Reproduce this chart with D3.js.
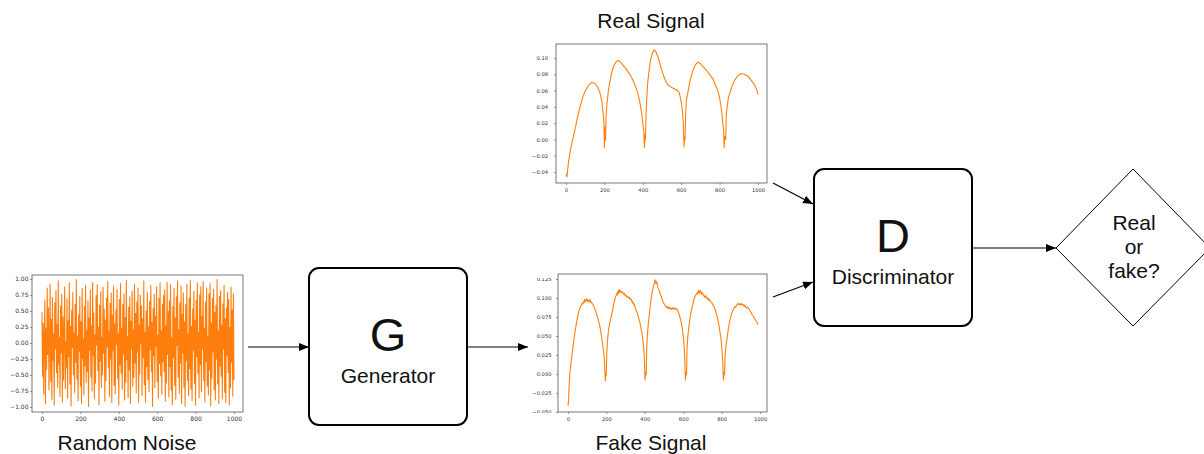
<!DOCTYPE html>
<html>
<head>
<meta charset="utf-8">
<script src="https://cdn.jsdelivr.net/npm/d3@7"></script>
<style>
  html, body { margin: 0; padding: 0; background: #fff; }
  svg { display: block; }
  .diag { font-family: "Liberation Sans", Arial, sans-serif; fill: #111; }
  .tick text { font-family: "DejaVu Sans", sans-serif; fill: #333; }
</style>
</head>
<body>
<svg id="chart" width="1204" height="454"></svg>
<script>
// ---------------- DATA ----------------
const noiseY = [0.48,-0.52,0.31,-0.80,0.12,0.67,-0.95,0.22,-0.41,0.86,-0.18,0.55,-0.73,0.05,0.92,-0.60,0.37,-0.88,0.71,-0.27,
0.14,-0.97,0.63,-0.09,0.82,-0.46,0.29,-0.69,0.97,-0.33,0.08,-0.84,0.58,-0.15,0.76,-0.92,0.41,-0.58,0.19,0.88,
-0.71,0.02,-0.39,0.69,-0.86,0.35,-0.21,0.94,-0.64,0.26,-0.98,0.51,-0.07,0.79,-0.49,0.16,-0.77,0.61,-0.30,0.99,
-0.56,0.11,-0.90,0.44,-0.13,0.73,-0.67,0.33,-0.94,0.85,-0.24,0.06,-0.81,0.57,-0.36,0.90,-0.62,0.20,-0.45,0.66,
-0.99,0.39,-0.11,0.83,-0.53,0.27,-0.75,0.95,-0.19,0.47,-0.87,0.13,-0.63,0.74,-0.03,0.91,-0.43,0.24,-0.96,0.59,
-0.28,0.80,-0.70,0.09,-0.50,0.87,-0.16,0.53,-0.91,0.36,-0.59,0.70,-0.06,0.96,-0.38,0.18,-0.83,0.62,-0.25,0.78,
-0.93,0.43,-0.12,0.89,-0.66,0.30,-0.79,0.52,-0.02,0.84,-0.55,0.15,-0.97,0.68,-0.34,0.93,-0.47,0.23,-0.72,0.60,
-0.17,0.77,-0.89,0.40,-0.61,0.98,-0.26,0.10,-0.85,0.56,-0.42,0.72,-0.95,0.34,-0.08,0.81,-0.68,0.21,-0.54,0.92,
-0.31,0.46,-0.78,0.64,-0.14,0.86,-0.92,0.28,-0.48,0.75,-0.01,0.58,-0.82,0.38,-0.23,0.97,-0.65,0.17,-0.93,0.50,
-0.37,0.79,-0.57,0.25,-0.76,0.65,-0.10,0.90,-0.44,0.32,-0.99,0.54,-0.20,0.76,-0.70,0.42,-0.05,0.88,-0.60,0.12,
-0.86,0.70,-0.32,0.94,-0.51,0.19,-0.80,0.61,-0.29,0.74,-0.45,0.83,-0.91,0.27,-0.62,0.95,-0.18,0.49,-0.84,0.66,
-0.37,0.91,-0.74,0.08,-0.96,0.57,-0.23,0.85,-0.66,0.39,-0.88,0.72,-0.04,0.97,-0.53,0.21,-0.79,0.63,-0.31,0.89,
-0.94,0.45,-0.15,0.78,-0.69,0.33,-0.99,0.60,-0.27,0.92,-0.58,0.14,-0.82,0.70,-0.40,0.98,-0.72,0.26,-0.90,0.53,
-0.11,0.81,-0.63,0.36,-0.97,0.67,-0.21,0.94,-0.47,0.17,-0.86,0.75,-0.34,0.88,-0.76,0.42,-0.08,0.96,-0.59,0.23,
-0.92,0.64,-0.29,0.86,-0.67,0.11,-0.81,0.77,-0.42,0.93,-0.98,0.31,-0.55,0.70,-0.14,0.84,-0.73,0.48,-0.89,0.59,
-0.25,0.99,-0.64,0.19,-0.95,0.73,-0.36,0.82,-0.52,0.28,-0.87,0.61,-0.09,0.90,-0.77,0.38,-0.93,0.55,-0.20,0.79,
-0.46,0.68,-0.97,0.24,-0.70,0.87,-0.30,0.52,-0.83,0.77,-0.58];

const realX = [0,5,12,21,33,47,60,73,86,99,116,135,150,163,175,185,192,198,200,202,204,206,209,214,220,228,237,248,263,275,
290,315,335,350,364,376,386,393,400,405,409,411,414,417,421,425,432,440,450,459,468,480,490,503,515,528,541,558,575,589,
597,605,611,615,617,620,623,627,636,645,653,665,678,690,700,715,731,748,766,780,792,801,809,816,821,824,827,832,835,839,
847,856,867,879,895,913,930,945,957,970,983,992,1000];
const realY = [-0.042,-0.046,-0.030,-0.016,-0.002,0.012,0.027,0.040,0.051,0.059,0.066,0.070,0.069,0.065,0.059,0.049,0.037,0.020,-0.010,0.015,
0.000,-0.001,0.030,0.045,0.058,0.070,0.081,0.090,0.096,0.097,
0.093,0.086,0.079,0.072,0.064,0.055,0.044,0.034,0.020,0.010,-0.010,0.005,-0.001,0.030,0.052,0.068,0.083,0.097,0.106,0.110,
0.108,0.101,0.092,0.082,0.074,0.068,0.065,0.063,0.061,0.058,
0.050,0.038,0.020,-0.009,0.003,-0.001,0.030,0.048,0.059,0.071,0.078,0.087,0.093,0.095,0.093,0.089,0.085,0.080,0.074,0.066,
0.059,0.050,0.038,0.022,0.012,-0.010,0.004,0.000,0.030,0.040,
0.052,0.059,0.067,0.073,0.078,0.081,0.080,0.078,0.075,0.071,0.067,0.062,0.055];

const fakeX = [0,3,6,9,14,21,29,38,46,55,60,64,68,73,77,80,83,86,89,92,96,99,102,106,109,112,115,118,122,125,
129,133,137,142,146,151,155,160,168,176,185,190,194,197,199,202,206,211,220,229,237,242,246,250,254,257,260,262,264,266,
268,271,273,276,280,284,289,293,298,302,306,310,315,319,324,328,332,335,338,341,344,347,350,358,367,376,385,391,396,399,
401,404,407,410,413,416,424,432,440,443,446,449,451,454,456,458,461,463,466,468,471,475,478,482,486,489,492,496,499,503,
507,510,514,518,521,524,527,530,534,538,542,546,549,552,555,558,562,566,570,575,584,593,600,605,608,611,614,617,620,624,
630,638,645,650,653,657,662,666,670,673,676,678,680,682,684,686,688,691,693,696,700,703,707,710,714,717,720,724,727,731,
734,737,740,744,748,752,756,761,766,775,783,790,797,802,806,809,812,815,818,822,827,835,844,852,856,860,865,870,874,878,
882,885,889,892,896,900,904,908,912,915,919,922,926,930,935,939,944,948,953,957,965,974,983,990];
const fakeY = [-0.042,-0.035,-0.015,-0.002,0.012,0.025,0.042,0.058,0.070,0.081,0.085,0.088,0.090,0.093,0.092,0.095,0.094,0.098,0.095,0.096,
0.099,0.096,0.098,0.095,0.097,0.096,0.098,0.094,0.095,0.093,
0.092,0.089,0.088,0.084,0.082,0.077,0.074,0.069,0.060,0.047,0.030,0.017,-0.009,0.002,-0.002,0.028,0.045,0.058,0.070,0.080,
0.091,0.095,0.101,0.103,0.106,0.104,0.109,0.106,0.108,0.111,
0.107,0.110,0.108,0.109,0.107,0.108,0.105,0.106,0.103,0.104,0.101,0.102,0.100,0.101,0.098,0.099,0.095,0.096,0.093,0.094,
0.090,0.091,0.087,0.082,0.075,0.066,0.054,0.042,0.028,0.012,
-0.008,0.002,-0.001,0.035,0.050,0.060,0.080,0.098,0.110,0.113,0.117,0.119,0.121,0.124,0.120,0.119,0.122,0.120,0.116,0.114,
0.112,0.110,0.107,0.104,0.102,0.099,0.098,0.094,0.093,0.091,
0.090,0.088,0.089,0.087,0.088,0.086,0.088,0.086,0.087,0.085,0.087,0.086,0.087,0.085,0.087,0.086,0.085,0.086,0.084,0.081,
0.074,0.064,0.050,0.036,0.020,-0.008,0.002,-0.001,0.035,0.050,
0.064,0.078,0.087,0.092,0.096,0.099,0.103,0.104,0.106,0.105,0.108,0.107,0.110,0.107,0.109,0.106,0.110,0.107,0.108,0.105,
0.107,0.104,0.104,0.101,0.102,0.103,0.100,0.101,0.098,0.099,
0.097,0.098,0.096,0.095,0.094,0.092,0.090,0.088,0.085,0.077,0.068,0.057,0.046,0.030,0.015,-0.008,0.002,-0.001,0.025,0.036,
0.045,0.060,0.072,0.080,0.082,0.085,0.087,0.089,0.088,0.091,
0.092,0.093,0.091,0.092,0.091,0.093,0.091,0.092,0.090,0.091,0.089,0.090,0.088,0.087,0.088,0.086,0.085,0.083,0.081,0.079,
0.076,0.072,0.068,0.065];

const xTicks = [0, 200, 400, 600, 800, 1000];
const noiseTicks = [-1.00, -0.75, -0.50, -0.25, 0.00, 0.25, 0.50, 0.75, 1.00];
const realTicks = [-0.04, -0.02, 0.00, 0.02, 0.04, 0.06, 0.08, 0.10];
const fakeTicks = [-0.050, -0.025, 0.000, 0.025, 0.050, 0.075, 0.100, 0.125];

const titles = { noise: "Random Noise", real: "Real Signal", fake: "Fake Signal" };
const gLabel = ["G", "Generator"];
const dLabel = ["D", "Discriminator"];
const decisionLines = ["Real", "or", "fake?"];

// ---------------- DRAW ----------------
const svg = d3.select("#chart");
const defs = svg.append("defs");
defs.append("marker").attr("id", "ah")
  .attr("viewBox", "0 0 10 8").attr("refX", 10).attr("refY", 4)
  .attr("markerWidth", 10).attr("markerHeight", 8)
  .attr("markerUnits", "userSpaceOnUse").attr("orient", "auto")
  .append("path").attr("d", "M0,0 L10,4 L0,8 Z").attr("fill", "#000");

const ORANGE = "#ff7f0e";
const minus = s => s.replace("-", "\u2212");
let clipId = 0;

function miniPlot(cfg) {
  const x = d3.scaleLinear().domain(cfg.xd).range([cfg.l, cfg.r]);
  const y = d3.scaleLinear().domain(cfg.yd).range([cfg.b, cfg.t]);
  const g = svg.append("g");
  const cid = "clip" + (clipId++);
  defs.append("clipPath").attr("id", cid).append("rect")
    .attr("x", cfg.l).attr("y", cfg.t).attr("width", cfg.r - cfg.l).attr("height", cfg.b - cfg.t);
  const plot = g.append("g").attr("clip-path", `url(#${cid})`);
  cfg.series.forEach(s => {
    const pts = s.ys.map((v, i) => [s.xs ? s.xs[i] : i * 1000 / (s.ys.length - 1), v]);
    plot.append("path").datum(pts)
      .attr("fill", "none").attr("stroke", s.color).attr("stroke-width", s.w)
      .attr("stroke-linejoin", "round")
      .attr("d", d3.line().x(d => x(d[0])).y(d => y(d[1])));
  });
  const xa = g.append("g").attr("transform", `translate(0,${cfg.b})`)
    .call(d3.axisBottom(x).tickValues(xTicks).tickSize(2).tickPadding(cfg.xpad).tickFormat(d3.format("d")));
  const ya = g.append("g").attr("transform", `translate(${cfg.l},0)`)
    .call(d3.axisLeft(y).tickValues(cfg.yt).tickSize(2).tickPadding(cfg.ypad)
      .tickFormat(d => minus(d3.format(cfg.fmt)(d))));
  [xa, ya].forEach(a => {
    a.select(".domain").remove();
    a.selectAll(".tick line").attr("stroke", "#555").attr("stroke-width", 0.6);
    a.selectAll(".tick text").attr("font-size", cfg.fs).attr("fill", "#333");
  });
  if (cfg.labelClip) {
    const lc = "clip" + (clipId++);
    defs.append("clipPath").attr("id", lc).append("rect")
      .attr("x", -cfg.l).attr("y", cfg.labelClip[0]).attr("width", cfg.l + 2)
      .attr("height", cfg.labelClip[1] - cfg.labelClip[0]);
    ya.attr("clip-path", `url(#${lc})`);
  }
  g.append("rect").attr("x", cfg.l).attr("y", cfg.t)
    .attr("width", cfg.r - cfg.l).attr("height", cfg.b - cfg.t)
    .attr("fill", "none").attr("stroke", "#555").attr("stroke-width", 0.8);
}

// Random noise
miniPlot({ l: 32, r: 243, t: 275, b: 412, xd: [-52, 1047], yd: [-1.078, 1.0625],
  yt: noiseTicks, fmt: ".2f", fs: 6, xpad: 2.5, ypad: 1.5,
  series: [{ ys: noiseY, color: ORANGE, w: 1.1 }] });

// Real signal
miniPlot({ l: 556, r: 767, t: 44, b: 183, xd: [-52, 1047], yd: [-0.0535, 0.1172],
  yt: realTicks, fmt: ".2f", fs: 5.2, xpad: 3, ypad: 6,
  series: [{ xs: realX, ys: realY, color: ORANGE, w: 1.1 }] });

// Fake signal
miniPlot({ l: 558, r: 767, t: 274, b: 412, xd: [-52, 1036], yd: [-0.050, 0.1316],
  yt: fakeTicks, fmt: ".3f", fs: 5.2, xpad: 3.5, ypad: 4.5, labelClip: [278, 413],
  series: [{ xs: fakeX, ys: fakeY, color: ORANGE, w: 1.1 }] });

// titles
svg.append("text").attr("class", "diag").attr("x", 127).attr("y", 450).attr("text-anchor", "middle")
  .attr("font-size", 21).text(titles.noise);
svg.append("text").attr("class", "diag").attr("x", 651).attr("y", 28).attr("text-anchor", "middle")
  .attr("font-size", 21).text(titles.real);
svg.append("text").attr("class", "diag").attr("x", 651).attr("y", 450).attr("text-anchor", "middle")
  .attr("font-size", 21).text(titles.fake);

// boxes
function box(x0, y0, x1, y1, labels, cx, by1, by2) {
  svg.append("rect").attr("x", x0).attr("y", y0).attr("width", x1 - x0).attr("height", y1 - y0)
    .attr("rx", 10).attr("ry", 10).attr("fill", "#fff").attr("stroke", "#000").attr("stroke-width", 2);
  svg.append("text").attr("class", "diag").attr("x", cx).attr("y", by1).attr("text-anchor", "middle")
    .attr("font-size", 47).text(labels[0]);
  svg.append("text").attr("class", "diag").attr("x", cx).attr("y", by2).attr("text-anchor", "middle")
    .attr("font-size", 21).text(labels[1]);
}
box(309, 268, 467, 425, gLabel, 388, 351, 383);
box(814, 169, 972, 326, dLabel, 893, 252, 284);

// diamond
svg.append("path").attr("d", "M1056,248 L1133,169 L1210,248 L1133,326 Z")
  .attr("fill", "#fff").attr("stroke", "#000").attr("stroke-width", 1);
decisionLines.forEach((t, i) => {
  svg.append("text").attr("class", "diag").attr("x", 1134).attr("y", 230 + i * 24)
    .attr("text-anchor", "middle").attr("font-size", 21).text(t);
});

// arrows
const arrows = [
  [248, 347, 309, 347],
  [467, 347, 528, 347],
  [773, 183, 813, 204],
  [773, 297, 813, 282],
  [972, 248, 1056, 248]
];
arrows.forEach(a => {
  svg.append("line").attr("x1", a[0]).attr("y1", a[1]).attr("x2", a[2]).attr("y2", a[3])
    .attr("stroke", "#000").attr("stroke-width", 1.2).attr("marker-end", "url(#ah)");
});
</script>
</body>
</html>
